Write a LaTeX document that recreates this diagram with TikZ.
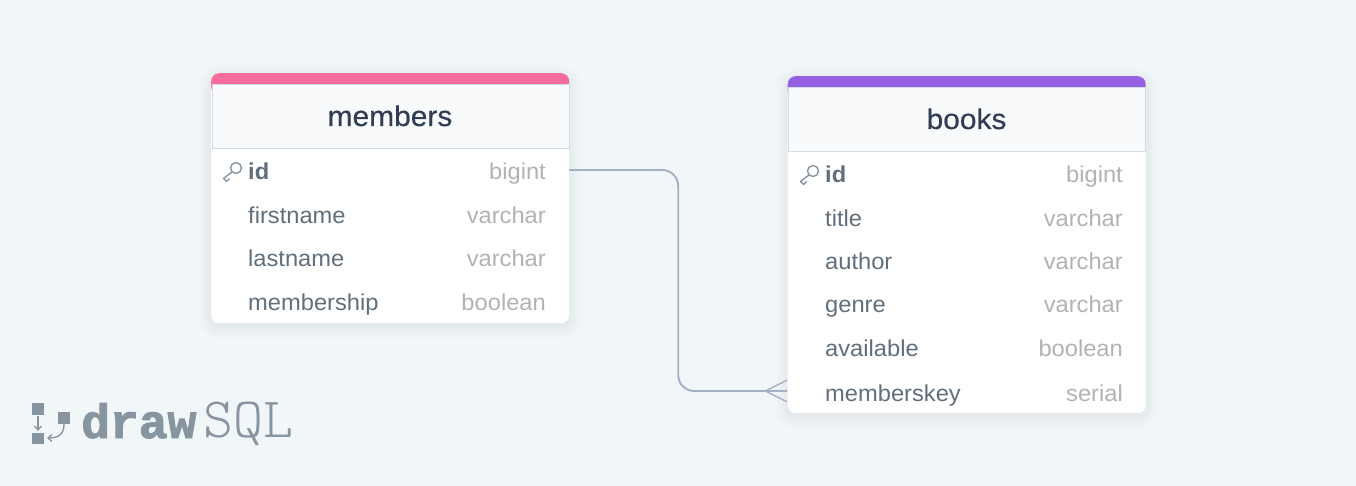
\documentclass[tikz,border=0pt]{standalone}
\usepackage{fontspec}
\setmainfont{Liberation Sans}[FakeStretch=1.03]
\newfontfamily\titlefont{Liberation Sans}[FakeStretch=1.05,FakeBold=0.4]
\newfontfamily\logobold{Liberation Mono}[BoldFeatures={FakeBold=2}]
\newfontfamily\logolight{Latin Modern Mono Light}
\usetikzlibrary{arrows.meta}
\definecolor{pagebg}{HTML}{F1F6F9}
\definecolor{headbg}{HTML}{F8FAFC}
\definecolor{headline}{HTML}{D3DCE6}
\definecolor{titletext}{HTML}{2F3E52}
\definecolor{fieldtext}{HTML}{606F7B}
\definecolor{typetext}{HTML}{B0B3B6}
\definecolor{relline}{HTML}{A3B0C4}
\definecolor{logotext}{HTML}{8795A1}
\definecolor{pinkbar}{HTML}{F66D9B}
\definecolor{purplebar}{HTML}{9561E2}
\tikzset{
    cardbox/.style={rectangle, draw=none, fill=white, rounded corners=8, minimum width=358, anchor=north west, inner sep=0},
    topbar/.style={rectangle, draw=none, rounded corners=8, minimum width=358, minimum height=22, anchor=north west, inner sep=0},
    headbox/.style={rectangle, draw=headline, line width=1.2, fill=headbg, minimum width=357, minimum height=64, anchor=north west, inner sep=0},
    titlelabel/.style={font=\titlefont\fontsize{28.5}{29}\selectfont, text=titletext, anchor=base},
    rowbox/.style={rectangle, draw=none, minimum width=358, minimum height=40, inner sep=0},
    fieldlabel/.style={font=\fontsize{23}{24}\selectfont, text=fieldtext, anchor=base west, inner sep=0},
    typelabel/.style={font=\fontsize{23}{24}\selectfont, text=typetext, anchor=base east, inner sep=0},
    relation/.style={draw=relline, line width=1.9},
    keyicon/.style={draw=logotext, line width=1.4, line join=round},
    logomark/.style={fill=logotext, draw=none},
    logoarrow/.style={draw=logotext, line width=1.3, -{Straight Barb[length=4,width=7]}},
}
\begin{document}
\begin{tikzpicture}[x=1pt, y=-1pt]
    % Page
    \fill[pagebg] (0,0) rectangle (1356,486);
    \useasboundingbox (0,0) rectangle (1356,486);
    % Soft shadows of the cards
    \foreach \x/\y/\h in {211/73/250, 787.5/76/337} {
            \foreach \s in {1,...,12} {
                    \fill[black, opacity=0.0035, rounded corners=8+\s] (\x-\s,\y+4-\s) rectangle (\x+358+\s,\y+\h+4+\s);
                }
        }
    % Relation between the tables
    \node[rowbox] (members-id) at (390,170) {};
    \node[rowbox] (books-memberskey) at (966.5,391) {};
    \coordinate (crow) at ([xshift=-22]books-memberskey.west);
    \draw[relation, rounded corners=16] (members-id.east) -- ++(109,0) |- (books-memberskey.west);
    \draw[relation, line width=1.3] (crow) -- ([yshift=-11]books-memberskey.west);
    \draw[relation, line width=1.3] (crow) -- ([yshift=11]books-memberskey.west);
    % Cards, colour bars and headers
    \foreach \tbl/\x/\y/\h/\barcol in {members/211/73/250/pinkbar, books/787.5/76/337/purplebar} {
            \node[cardbox, minimum height=\h] (\tbl-card) at (\x,\y) {};
            \node[topbar, fill=\barcol] (\tbl-bar) at (\x,\y) {};
            \node[headbox] (\tbl-head) at (\x+0.5,\y+11) {};
            \node[titlelabel] (\tbl-title) at (\x+179,\y+53) {\tbl};
        }
    % Rows of members
    \foreach \field/\type/\y/\weight in {id/bigint/171/\bfseries, firstname/varchar/215/\mdseries, lastname/varchar/258/\mdseries, membership/boolean/302/\mdseries} {
            \node[fieldlabel] (members-\field-name) at (248,\y+8.5) {\weight\field};
            \node[typelabel] (members-\field-type) at (546,\y+8.5) {\type};
        }
    % Rows of books
    \foreach \field/\type/\y/\weight in {id/bigint/174/\bfseries, title/varchar/218/\mdseries, author/varchar/261/\mdseries, genre/varchar/304/\mdseries, available/boolean/348/\mdseries, memberskey/serial/393/\mdseries} {
            \node[fieldlabel] (books-\field-name) at (825,\y+8.5) {\weight\field};
            \node[typelabel] (books-\field-type) at (1123,\y+8.5) {\type};
        }
    % Key icons
    \foreach \kx/\ky in {236/168, 813/171} {
            \draw[keyicon] (\kx,\ky) circle (5.5);
            \draw[keyicon] (\kx-3.8,\ky+3.8) -- (\kx-12.5,\ky+10.5) -- (\kx-9.5,\ky+13.5) -- (\kx-6.5,\ky+10.5);
        }
    % Logo
    \fill[logomark] (32,403) rectangle (44,415);
    \fill[logomark] (58,412) rectangle (70,424);
    \fill[logomark] (32,433) rectangle (44,444);
    \draw[logoarrow] (38,416) -- (38,431);
    \draw[logoarrow] (64,424) .. controls (64,433) and (60,438) .. (47,438);
    \node[font=\logobold\bfseries\fontsize{48}{48}\selectfont, text=logotext, anchor=base west, inner sep=0] (logo-draw) at (81,438) {draw};
    \node[font=\logolight\fontsize{57}{57}\selectfont, text=logotext, anchor=base west, inner sep=0] (logo-sql) at (203,437) {SQL};
\end{tikzpicture}
\end{document}
